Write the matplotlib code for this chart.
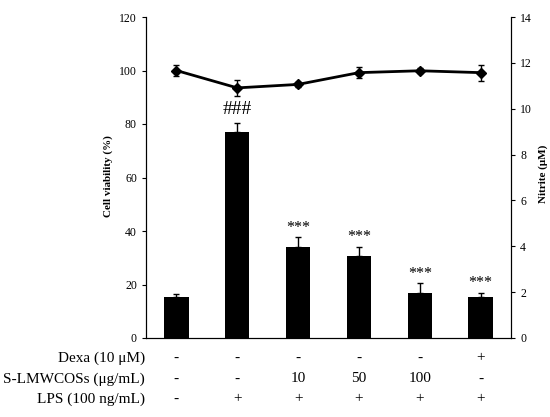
import matplotlib.pyplot as plt
import numpy as np

plt.rcParams['font.family'] = ['Liberation Serif', 'DejaVu Serif']

# Nitrite (bars, right axis) and cell viability (line, left axis)
groups = np.arange(6)
nitrite = [1.78, 8.98, 3.97, 3.58, 1.96, 1.77]
nitrite_err = [0.12, 0.41, 0.42, 0.40, 0.42, 0.21]
viability = [100.0, 93.5, 94.8, 99.2, 99.9, 99.2]
viability_err = [2.0, 3.0, 1.0, 2.0, 1.0, 3.0]
marks = ['', '###', '***', '***', '***', '***']

row_labels = ['Dexa (10 \u03bcM)', 'S-LMWCOSs (\u03bcg/mL)', 'LPS (100 ng/mL)']
dexa = ['-', '-', '-', '-', '-', '+']
cos = ['-', '-', '10', '50', '100', '-']
lps = ['-', '+', '+', '+', '+', '+']

fig = plt.figure(figsize=(5.5, 4.17), dpi=100)
ax = fig.add_axes([146 / 550, 1 - 338 / 417, 365 / 550, 321 / 417])
ax_r = ax.twinx()

# bars on the nitrite axis
ax_r.bar(groups, nitrite, width=0.4, color='black')
ax_r.errorbar(groups, nitrite, yerr=[np.zeros(6), nitrite_err], fmt='none',
              ecolor='black', elinewidth=1, capsize=2.5, capthick=1)
for x, h, e, m in zip(groups, nitrite, nitrite_err, marks):
    if m == '###':
        ax_r.text(x, h + e + 0.2, m, ha='center', va='bottom', fontsize=14)
    else:
        ax_r.text(x, h + e + 0.08, m, ha='center', va='bottom', fontsize=11.5)

# viability line on the left axis
ax.errorbar(groups, viability, yerr=viability_err, color='black', lw=2,
            marker='D', ms=5, capsize=2.5, elinewidth=1, capthick=1)

ax.set_xlim(-0.5, 5.5)
ax.set_ylim(0, 120)
ax.set_yticks(range(0, 121, 20))
ax_r.set_ylim(0, 14)
ax_r.set_yticks(range(0, 15, 2))

for a in (ax, ax_r):
    a.spines['top'].set_visible(False)
    a.tick_params(axis='y', labelsize=8.5, direction='out', length=3, width=0.8)
ax.set_xticks([])
ax.set_zorder(ax_r.get_zorder() + 1)
ax.patch.set_visible(False)

ax.set_ylabel('Cell viability (%)', fontsize=8, fontweight='bold')
ax.yaxis.set_label_coords(-0.09, 0.505)
ax_r.set_ylabel('Nitrite (\u03bcM)', fontsize=8, fontweight='bold', rotation=90)
ax_r.yaxis.set_label_coords(1.076, 0.51)

# treatment table below the axis
rows = [dexa, cos, lps]
row_y = [358, 379, 399]
for label, vals, y in zip(row_labels, rows, row_y):
    fy = 1 - y / 417
    fig.text(145 / 550, fy, label, ha='right', va='center', fontsize=11)
    for x, v in zip(groups, vals):
        fx = ax.transData.transform((x, 0))[0] / fig.dpi / 5.5
        fig.text(fx, fy, v, ha='center', va='center', fontsize=11)

fig.savefig('out.png', dpi=100)
